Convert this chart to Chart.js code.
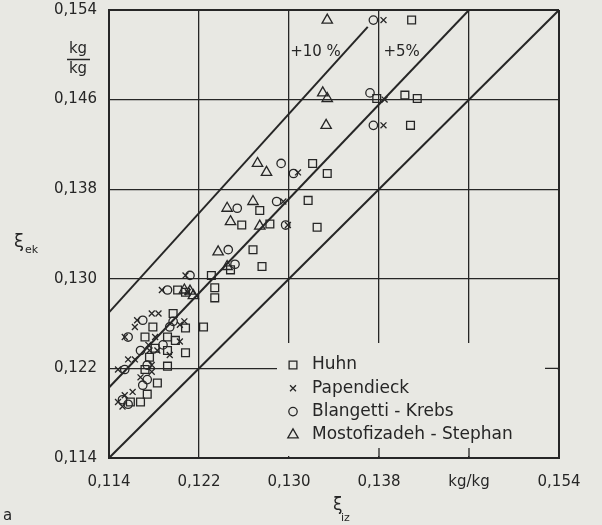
<!DOCTYPE html>
<html>
<head>
<meta charset="utf-8">
<script src="https://cdn.jsdelivr.net/npm/chart.js"></script>
<style>
  html, body { margin: 0; padding: 0; background: #e8e8e3; }
  #wrap { width: 602px; height: 525px; }
</style>
</head>
<body>
<div id="wrap"><canvas id="chart" width="602" height="525"></canvas></div>
<script>
// axis ticks
const xTicks = [0.114, 0.122, 0.130, 0.138, 0.146, 0.154];
const yTicks = [0.114, 0.122, 0.130, 0.138, 0.146, 0.154];
const xTickLabels = ['0,114', '0,122', '0,130', '0,138', 'kg/kg', '0,154'];
const yTickLabels = ['0,114', '0,122', '0,130', '0,138', '0,146', '0,154'];

// Huhn (squares)
const huhnX = [0.1409, 0.1403, 0.1414, 0.1378, 0.1408, 0.1321, 0.1334, 0.1317, 0.1325, 0.1274, 0.1258, 0.1283, 0.1268, 0.1248, 0.1276, 0.1231, 0.1201, 0.1208, 0.1234, 0.1234, 0.1197, 0.1224, 0.1179, 0.1208, 0.1172, 0.1192, 0.1199, 0.1192, 0.1208, 0.1192, 0.1172, 0.1181, 0.1183, 0.1174, 0.1159, 0.1168, 0.1176];
const huhnY = [0.1531, 0.1464, 0.1461, 0.1461, 0.1437, 0.1403, 0.1394, 0.1370, 0.1346, 0.1361, 0.1348, 0.1349, 0.1326, 0.1308, 0.1311, 0.1303, 0.1290, 0.1288, 0.1292, 0.1283, 0.1269, 0.1257, 0.1257, 0.1256, 0.1248, 0.1248, 0.1245, 0.1236, 0.1234, 0.1222, 0.1219, 0.1238, 0.1207, 0.1197, 0.1190, 0.1190, 0.1230];

// Papendieck (crosses)
const papX = [0.1384, 0.1385, 0.1384, 0.1308, 0.1295, 0.1299, 0.1208, 0.1187, 0.1210, 0.1178, 0.1184, 0.1165, 0.1163, 0.1203, 0.1154, 0.1181, 0.1175, 0.1176, 0.1183, 0.1194, 0.1157, 0.1163, 0.1178, 0.1148, 0.1178, 0.1168, 0.1154, 0.1161, 0.1148, 0.1152, 0.1203, 0.1207];
const papY = [0.1531, 0.1460, 0.1437, 0.1395, 0.1369, 0.1348, 0.1303, 0.1290, 0.1288, 0.1269, 0.1269, 0.1263, 0.1257, 0.1259, 0.1248, 0.1248, 0.1241, 0.1236, 0.1236, 0.1232, 0.1228, 0.1228, 0.1223, 0.1219, 0.1217, 0.1212, 0.1196, 0.1199, 0.1190, 0.1186, 0.1244, 0.1262];

// Blangetti - Krebs (circles)
const bkX = [0.1375, 0.1372, 0.1375, 0.1293, 0.1304, 0.1289, 0.1297, 0.1254, 0.1246, 0.1252, 0.1212, 0.1192, 0.1170, 0.1194, 0.1157, 0.1188, 0.1168, 0.1174, 0.1154, 0.1170, 0.1152, 0.1157, 0.1174, 0.1197];
const bkY = [0.1531, 0.1466, 0.1437, 0.1403, 0.1394, 0.1369, 0.1348, 0.1363, 0.1326, 0.1313, 0.1303, 0.1290, 0.1263, 0.1257, 0.1248, 0.1241, 0.1236, 0.1223, 0.1219, 0.1205, 0.1192, 0.1188, 0.1210, 0.1262];

// Mostofizadeh - Stephan (triangles)
const msX = [0.1334, 0.1330, 0.1334, 0.1333, 0.1272, 0.1280, 0.1245, 0.1268, 0.1248, 0.1274, 0.1237, 0.1245, 0.1215, 0.1212, 0.1207];
const msY = [0.1531, 0.1466, 0.1461, 0.1437, 0.1403, 0.1395, 0.1363, 0.1369, 0.1351, 0.1347, 0.1324, 0.1311, 0.1285, 0.1289, 0.1290];

// reference lines: ideal and deviation bands
const idealX = [0.114, 0.154];
const idealY = [0.114, 0.154];
const plus5X = [0.114, 0.1460];
const plus5Y = [0.1203, 0.1540];
const plus10X = [0.114, 0.1370];
const plus10Y = [0.1270, 0.1525];

const seriesNames = ['Huhn', 'Papendieck', 'Blangetti - Krebs', 'Mostofizadeh - Stephan'];
const seriesStyles = ['rect', 'crossRot', 'circle', 'triangle'];

const INK = '#262626';
const PAPER = '#e8e8e3';
const FONT = '"DejaVu Sans", sans-serif';

const pts = (xs, ys) => xs.map((v, i) => ({ x: v, y: ys[i] }));

const markerRadius = { rect: 5.5, crossRot: 4.2, circle: 4.2, triangle: 6 };

function pointSet(name, xs, ys, style) {
  return {
    label: name,
    data: pts(xs, ys),
    pointStyle: style,
    pointRadius: markerRadius[style],
    pointBorderColor: INK,
    pointBackgroundColor: 'rgba(0,0,0,0)',
    pointBorderWidth: 1.3,
    showLine: false
  };
}

function refLine(xs, ys) {
  return {
    label: '',
    data: pts(xs, ys),
    showLine: true,
    borderColor: INK,
    borderWidth: 2,
    pointRadius: 0,
    fill: false
  };
}

function drawMarker(ctx, style, x, y) {
  const r = markerRadius[style];
  ctx.beginPath();
  if (style === 'rect') {
    const s = r * Math.SQRT1_2;
    ctx.rect(x - s, y - s, 2 * s, 2 * s);
  } else if (style === 'circle') {
    ctx.arc(x, y, r, 0, Math.PI * 2);
  } else if (style === 'triangle') {
    ctx.moveTo(x, y - r);
    ctx.lineTo(x + 0.866 * r, y + 0.5 * r);
    ctx.lineTo(x - 0.866 * r, y + 0.5 * r);
    ctx.closePath();
  } else {
    const o = r * Math.SQRT1_2;
    ctx.moveTo(x - o, y - o); ctx.lineTo(x + o, y + o);
    ctx.moveTo(x - o, y + o); ctx.lineTo(x + o, y - o);
  }
  ctx.stroke();
}

// blank legend zone, tick stubs, legend and loose labels
const overlay = {
  id: 'overlay',
  beforeDatasetsDraw(chart) {
    const { ctx, chartArea: a, scales: { x, y } } = chart;
    ctx.save();
    ctx.fillStyle = PAPER;
    ctx.fillRect(a.left + 168, a.bottom - 115, a.right - a.left - 170, 113);
    ctx.strokeStyle = INK;
    ctx.lineWidth = 1.3;
    ctx.beginPath();
    [0.138, 0.146].forEach(v => {
      const px = x.getPixelForValue(v);
      ctx.moveTo(px, a.bottom - 10);
      ctx.lineTo(px, a.bottom);
    });
    const py = y.getPixelForValue(0.122);
    ctx.moveTo(a.right - 14, py);
    ctx.lineTo(a.right, py);
    ctx.stroke();
    ctx.restore();
  },
  afterDraw(chart) {
    const { ctx, chartArea: a, scales: { x, y } } = chart;
    ctx.save();
    ctx.fillStyle = INK;
    ctx.strokeStyle = INK;

    // legend
    ctx.font = '17px ' + FONT;
    ctx.textBaseline = 'middle';
    ctx.textAlign = 'left';
    seriesNames.forEach((name, i) => {
      const ly = a.bottom - 93 + i * 23.3;
      ctx.lineWidth = 1.3;
      drawMarker(ctx, seriesStyles[i], a.left + 184, ly);
      ctx.fillText(name, a.left + 203, ly);
    });

    // band labels
    ctx.font = '15px ' + FONT;
    ctx.fillText('+10 %', x.getPixelForValue(0.1301), y.getPixelForValue(0.1502));
    ctx.fillText('+5%', x.getPixelForValue(0.1384), y.getPixelForValue(0.1502));

    // y unit as a fraction
    ctx.textAlign = 'center';
    ctx.fillText('kg', 78, 49);
    ctx.fillText('kg', 78, 69);
    ctx.lineWidth = 1.5;
    ctx.beginPath();
    ctx.moveTo(67, 59.5);
    ctx.lineTo(90, 59.5);
    ctx.stroke();

    // axis symbols
    ctx.textAlign = 'left';
    ctx.font = '18px ' + FONT;
    ctx.fillText('ξ', 14, 242);
    ctx.font = '11px ' + FONT;
    ctx.fillText('ek', 25, 250);
    ctx.font = '17px ' + FONT;
    ctx.fillText('ξ', 333, 506);
    ctx.font = '11px ' + FONT;
    ctx.fillText('iz', 341, 518);

    ctx.font = '15px ' + FONT;
    ctx.fillText('a', 3, 516);
    ctx.restore();
  }
};

const edge = v => Math.abs(v - 0.154) < 1e-6 || Math.abs(v - 0.114) < 1e-6;

const config = {
  type: 'scatter',
  data: {
    datasets: [
      refLine(idealX, idealY),
      refLine(plus5X, plus5Y),
      refLine(plus10X, plus10Y),
      pointSet(seriesNames[0], huhnX, huhnY, seriesStyles[0]),
      pointSet(seriesNames[1], papX, papY, seriesStyles[1]),
      pointSet(seriesNames[2], bkX, bkY, seriesStyles[2]),
      pointSet(seriesNames[3], msX, msY, seriesStyles[3])
    ]
  },
  options: {
    responsive: false,
    animation: false,
    layout: { padding: { top: 10, right: 43, left: 0, bottom: 0 } },
    plugins: {
      legend: { display: false },
      tooltip: { enabled: false }
    },
    scales: {
      x: {
        type: 'linear',
        min: 0.114,
        max: 0.154,
        afterBuildTicks: s => { s.ticks = xTicks.map(v => ({ value: v })); },
        afterFit: s => { s.height = 67; s.paddingLeft = 0; s.paddingRight = 0; },
        grid: {
          color: INK,
          lineWidth: c => (c.tick && edge(c.tick.value) ? 2 : 1.3),
          drawTicks: false
        },
        border: { display: true, color: INK, width: 2 },
        ticks: {
          padding: 15,
          color: INK,
          font: { family: FONT, size: 15 },
          maxRotation: 0,
          autoSkip: false,
          callback: (v, i) => xTickLabels[i]
        }
      },
      y: {
        type: 'linear',
        min: 0.114,
        max: 0.154,
        afterBuildTicks: s => { s.ticks = yTicks.map(v => ({ value: v })); },
        afterFit: s => { s.width = 109; s.paddingTop = 0; s.paddingBottom = 0; },
        grid: {
          color: INK,
          lineWidth: c => (c.tick && edge(c.tick.value) ? 2 : 1.3),
          drawTicks: false
        },
        border: { display: true, color: INK, width: 2 },
        ticks: {
          padding: 12,
          color: INK,
          font: { family: FONT, size: 15 },
          autoSkip: false,
          callback: (v, i) => yTickLabels[i]
        }
      }
    }
  },
  plugins: [overlay]
};

const myChart = new Chart(document.getElementById('chart').getContext('2d'), config);
</script>
</body>
</html>
